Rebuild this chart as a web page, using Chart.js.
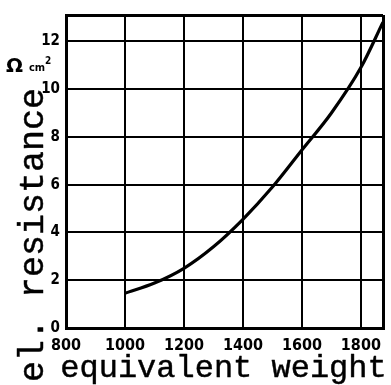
<!DOCTYPE html>
<html>
<head>
<meta charset="utf-8">
<script src="https://cdn.jsdelivr.net/npm/chart.js@4/dist/chart.umd.min.js"></script>
<style>
  html, body { margin: 0; padding: 0; background: #fff; }
  #wrap { width: 391px; height: 385px; position: relative; }
</style>
</head>
<body>
<div id="wrap"><canvas id="c"></canvas></div>
<script>
// Membrane resistance versus equivalent weight
const weights    = [1000, 1100, 1200, 1300, 1400, 1500, 1600, 1700, 1800, 1875];
const resistance = [1.45, 1.88, 2.5, 3.4, 4.55, 5.9, 7.45, 9.0, 10.9, 12.8];
const xTickValues = [800, 1000, 1200, 1400, 1600, 1800];
const yTickValues = [0, 2, 4, 6, 8, 10, 12];
const xMin = 800, xMax = 1875;
const yMin = 0, yMax = 13.1;

const tickFont = "'Liberation Sans Narrow', 'DejaVu Sans Condensed', sans-serif";
const titleFont = "'Liberation Mono', 'DejaVu Sans Mono', monospace";

// typewriter-style text: fill plus a thin outline for heavier strokes
function heavyText(ctx, text, x, y) {
  ctx.fillText(text, x, y);
  ctx.strokeText(text, x, y);
}

// axis titles and the unit label
const titles = {
  id: 'titles',
  afterDraw(chart) {
    const ctx = chart.ctx;
    const area = chart.chartArea;
    ctx.save();
    ctx.fillStyle = '#000';
    ctx.strokeStyle = '#000';
    ctx.lineWidth = 0.45;
    ctx.lineJoin = 'round';
    // x title
    ctx.font = "32px " + titleFont;
    ctx.textAlign = 'center';
    ctx.textBaseline = 'alphabetic';
    heavyText(ctx, 'equivalent weight', (area.left + area.right) / 2 - 1, 377);
    // y title
    ctx.save();
    ctx.translate(43, 235);
    ctx.rotate(-Math.PI / 2);
    ctx.font = "35px " + titleFont;
    ctx.textAlign = 'center';
    heavyText(ctx, 'el. resistance', 0, 0);
    ctx.restore();
    // unit
    ctx.textAlign = 'left';
    ctx.font = "bold 20px 'DejaVu Sans', sans-serif";
    ctx.fillText('\u03A9', 6, 72);
    ctx.font = "bold 11px 'DejaVu Sans Condensed', sans-serif";
    ctx.fillText('cm', 29, 71);
    ctx.font = "bold 10px 'DejaVu Sans Condensed', sans-serif";
    ctx.fillText('2', 45, 64);
    ctx.restore();
  }
};

new Chart(document.getElementById('c'), {
  type: 'line',
  data: {
    datasets: [{
      data: weights.map((w, i) => ({ x: w, y: resistance[i] })),
      borderColor: '#000',
      borderWidth: 3.2,
      pointRadius: 0,
      cubicInterpolationMode: 'monotone',
      fill: false
    }]
  },
  options: {
    responsive: true,
    maintainAspectRatio: false,
    animation: false,
    layout: { padding: { left: 0, top: 13, right: 2, bottom: 0 } },
    plugins: { legend: { display: false }, tooltip: { enabled: false } },
    scales: {
      x: {
        type: 'linear',
        min: xMin, max: xMax,
        afterBuildTicks(scale) {
          scale.ticks = xTickValues.concat([xMax]).map(v => ({ value: v }));
        },
        afterFit(scale) { scale.height = 57; },
        grid: { color: '#000', lineWidth: (c) => (c.index === 0 || c.index === xTickValues.length) ? 3 : 2, drawTicks: false },
        border: { display: true, color: '#000', width: 3 },
        ticks: {
          padding: 8,
          color: '#000',
          maxRotation: 0,
          autoSkip: false,
          font: { family: tickFont, size: 16, weight: 'bold' },
          callback: (v) => xTickValues.includes(v) ? String(v) : ''
        }
      },
      y: {
        type: 'linear',
        min: yMin, max: yMax,
        afterBuildTicks(scale) {
          scale.ticks = yTickValues.concat([yMax]).map(v => ({ value: v }));
        },
        afterFit(scale) { scale.width = 66; },
        grid: { color: '#000', lineWidth: (c) => (c.index === 0 || c.index === yTickValues.length) ? 3 : 2, drawTicks: false },
        border: { display: true, color: '#000', width: 3 },
        ticks: {
          padding: 6,
          color: '#000',
          autoSkip: false,
          font: { family: tickFont, size: 15, weight: 'bold' },
          callback: (v) => yTickValues.includes(v) ? String(v) : ''
        }
      }
    }
  },
  plugins: [titles]
});
</script>
</body>
</html>
